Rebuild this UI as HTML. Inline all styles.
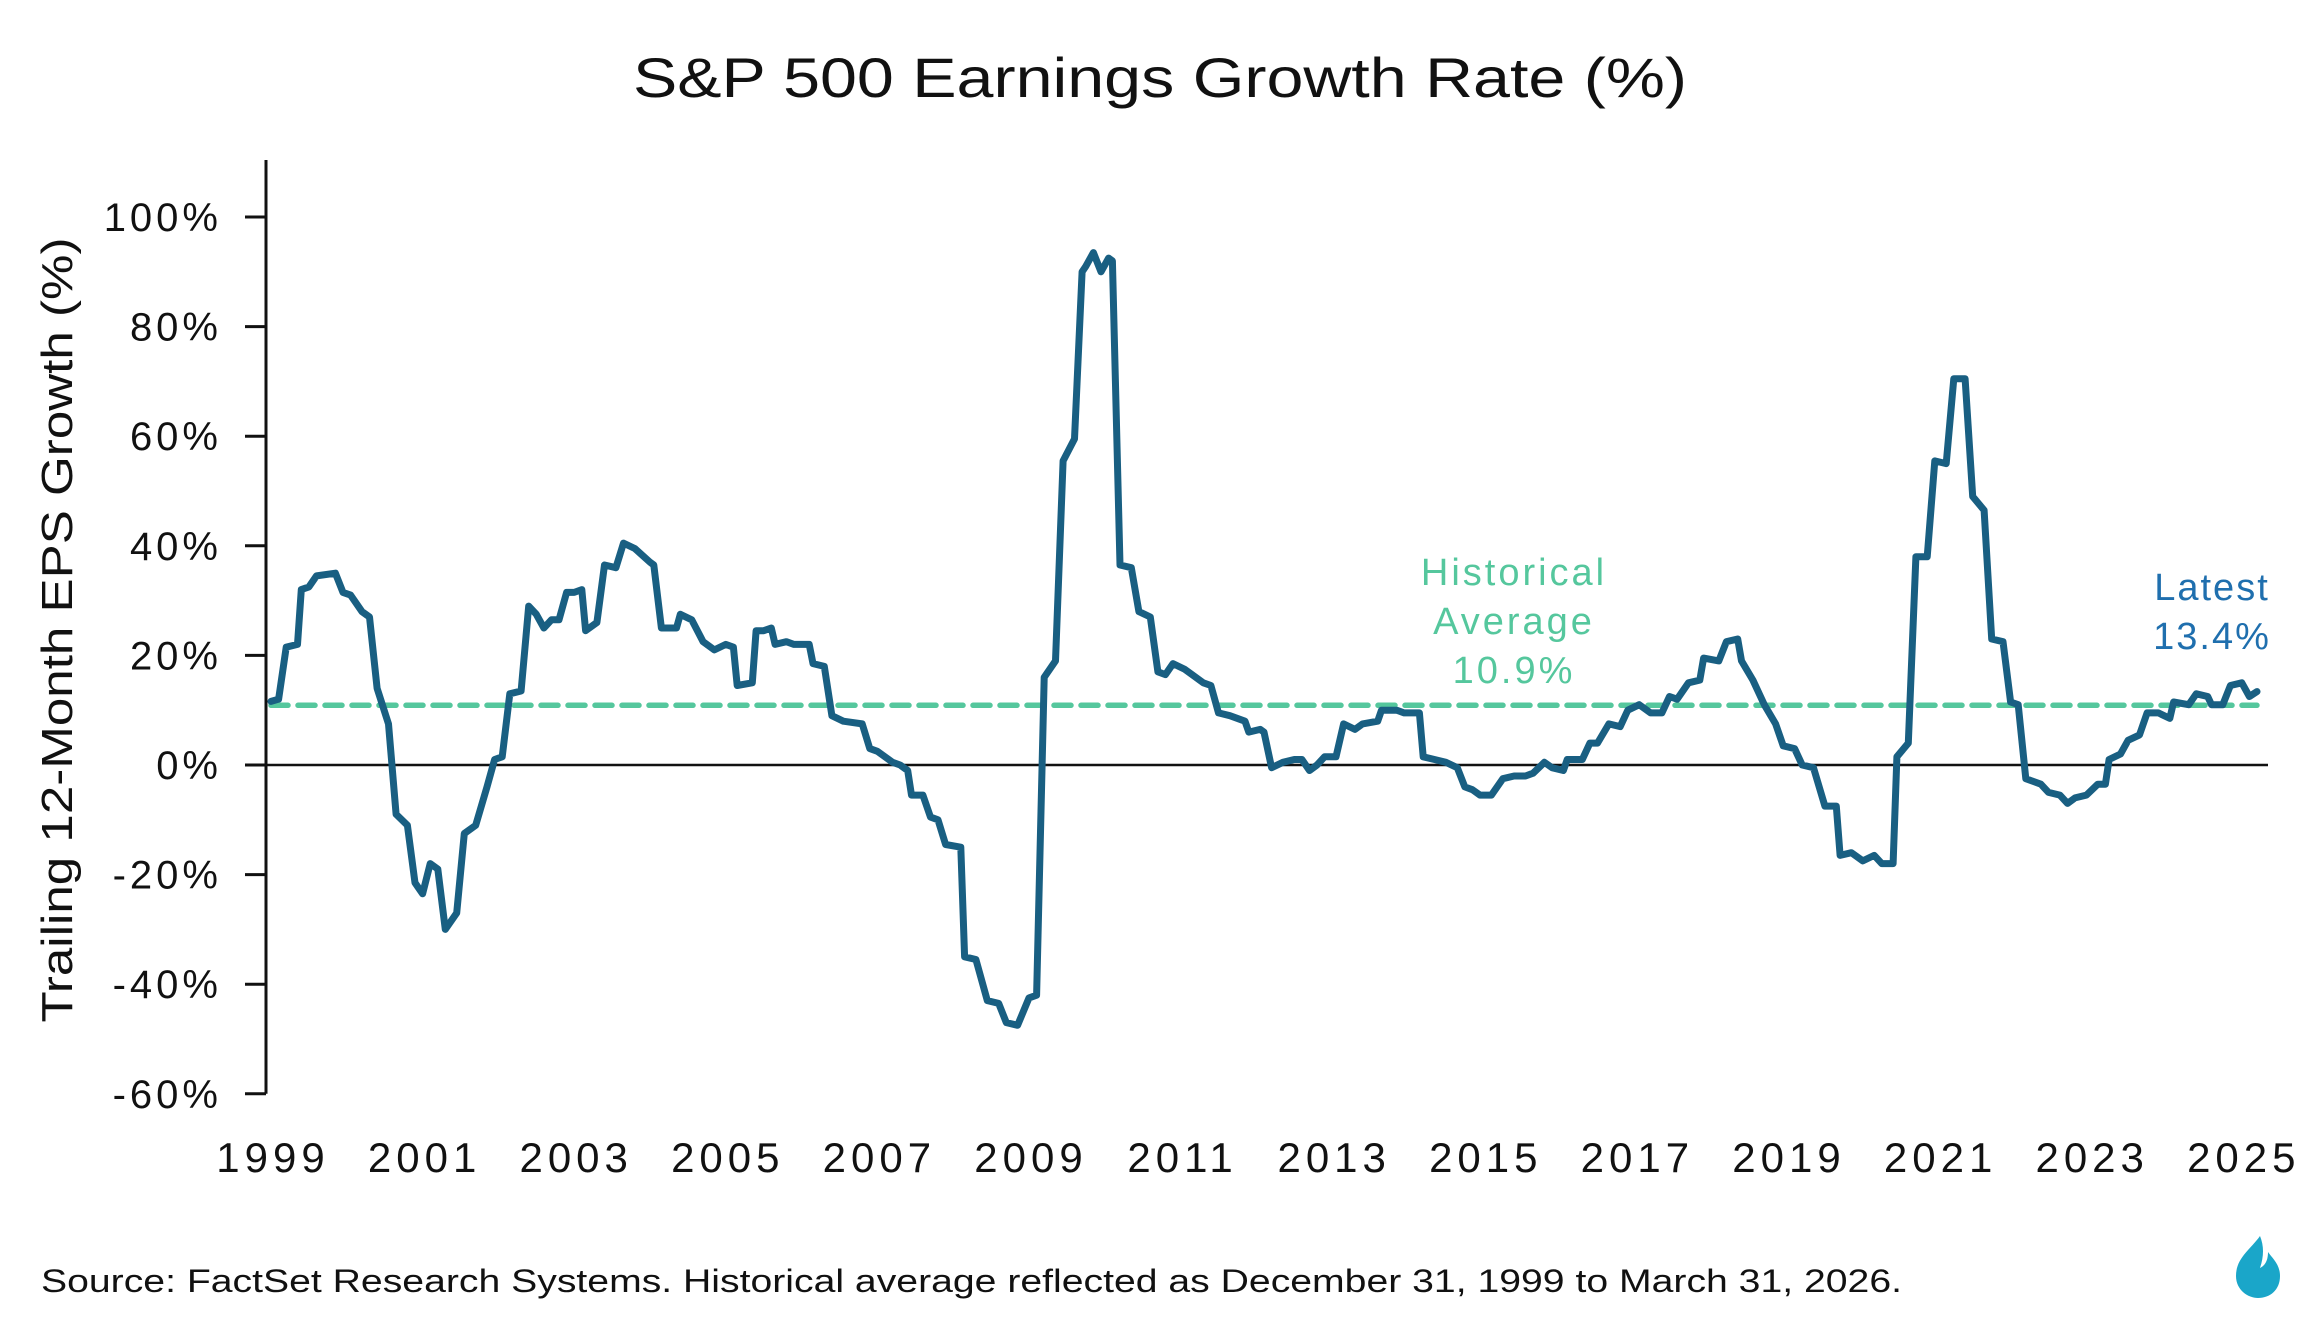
<!DOCTYPE html>
<html><head><meta charset="utf-8"><style>
html,body{margin:0;padding:0;background:#fff;}
svg{display:block;font-family:"Liberation Sans",sans-serif;}
</style></head><body>
<svg id="chart" width="2310" height="1320" viewBox="0 0 2310 1320" xmlns="http://www.w3.org/2000/svg">
<text x="1160" y="97" font-size="56" text-anchor="middle" fill="#111" textLength="1054" lengthAdjust="spacingAndGlyphs">S&amp;P 500 Earnings Growth Rate (%)</text>
<g id="yaxis"></g>
<g id="xaxis"></g>
<text transform="translate(72,630) rotate(-90)" font-size="44" text-anchor="middle" fill="#111" textLength="785" lengthAdjust="spacingAndGlyphs">Trailing 12-Month EPS Growth  (%)</text>
<g id="plot"></g>
<text x="1514" y="585" font-size="38" text-anchor="middle" fill="#55c79d" letter-spacing="3">Historical</text>
<text x="1514" y="634" font-size="38" text-anchor="middle" fill="#55c79d" letter-spacing="3">Average</text>
<text x="1514" y="683" font-size="38" text-anchor="middle" fill="#55c79d" letter-spacing="3">10.9%</text>
<text x="2212" y="600" font-size="38" text-anchor="middle" fill="#1f6fae" letter-spacing="2">Latest</text>
<text x="2212" y="649" font-size="38" text-anchor="middle" fill="#1f6fae" letter-spacing="2">13.4%</text>
<text x="41" y="1292" font-size="32" fill="#111" textLength="1861" lengthAdjust="spacingAndGlyphs">Source: FactSet Research Systems. Historical average reflected as December 31, 1999 to March 31, 2026.</text>
<g transform="translate(2258,1268)">
<path d="M2,-32 C-8,-18 -22,-10 -22,8 C-22,22 -10,30 0,30 C12,30 22,22 22,8 C22,-4 14,-10 10,-16 C10,-6 6,-2 2,0 C6,-12 6,-22 2,-32Z" fill="#1aa6c9"/>
</g>
</svg>
<script>
const yTicks = [-60,-40,-20,0,20,40,60,80,100];
const yTickLabels = ["-60%","-40%","-20%","0%","20%","40%","60%","80%","100%"];
const xTicks = [1999,2001,2003,2005,2007,2009,2011,2013,2015,2017,2019,2021,2023,2025];
const avgValue = 10.9;
const years = [1999.0,1999.1,1999.2,1999.35,1999.4,1999.5,1999.6,1999.85,1999.95,2000.05,2000.2,2000.3,2000.4,2000.55,2000.65,2000.8,2000.9,2001.0,2001.1,2001.2,2001.3,2001.45,2001.55,2001.7,2001.85,2001.95,2002.05,2002.15,2002.3,2002.4,2002.5,2002.6,2002.7,2002.8,2002.9,2003.0,2003.1,2003.15,2003.3,2003.4,2003.55,2003.65,2003.8,2004.0,2004.05,2004.15,2004.35,2004.4,2004.55,2004.7,2004.85,2005.0,2005.1,2005.15,2005.35,2005.4,2005.5,2005.6,2005.65,2005.8,2005.9,2006.1,2006.15,2006.3,2006.4,2006.55,2006.8,2006.9,2007.0,2007.2,2007.3,2007.4,2007.45,2007.6,2007.7,2007.8,2007.9,2008.1,2008.15,2008.3,2008.45,2008.6,2008.7,2008.85,2009.0,2009.1,2009.2,2009.35,2009.45,2009.6,2009.7,2009.75,2009.85,2009.95,2010.05,2010.1,2010.2,2010.35,2010.45,2010.6,2010.7,2010.8,2010.9,2011.05,2011.15,2011.3,2011.4,2011.5,2011.65,2011.85,2011.9,2012.05,2012.1,2012.2,2012.35,2012.5,2012.6,2012.7,2012.8,2012.9,2013.05,2013.15,2013.3,2013.4,2013.6,2013.65,2013.85,2013.95,2014.15,2014.2,2014.35,2014.5,2014.65,2014.75,2014.85,2014.95,2015.1,2015.25,2015.4,2015.55,2015.65,2015.8,2015.9,2016.05,2016.1,2016.3,2016.4,2016.5,2016.65,2016.8,2016.9,2017.05,2017.2,2017.35,2017.45,2017.55,2017.7,2017.85,2017.9,2018.1,2018.2,2018.35,2018.4,2018.55,2018.7,2018.85,2018.95,2019.1,2019.2,2019.35,2019.5,2019.65,2019.7,2019.85,2020.0,2020.15,2020.25,2020.4,2020.45,2020.6,2020.7,2020.85,2020.95,2021.1,2021.2,2021.35,2021.45,2021.6,2021.7,2021.85,2021.95,2022.05,2022.15,2022.35,2022.45,2022.6,2022.7,2022.8,2022.95,2023.1,2023.2,2023.25,2023.4,2023.5,2023.65,2023.75,2023.9,2024.05,2024.1,2024.3,2024.4,2024.55,2024.6,2024.75,2024.85,2025.0,2025.1,2025.2];
const growth = [11.6,12,21.5,22,32,32.5,34.5,35,31.5,31,28,27,14,7.5,-9,-11,-21.5,-23.5,-18,-19,-30,-27,-12.5,-11,-4,1,1.5,13,13.5,29,27.5,25,26.5,26.5,31.5,31.5,32,24.5,26,36.5,36,40.5,39.5,37,36.5,25,25,27.5,26.5,22.5,21,22,21.5,14.5,15,24.5,24.5,25,22,22.5,22,22,18.5,18,9,8,7.5,3,2.5,0.5,0,-1,-5.5,-5.5,-9.5,-10,-14.5,-15,-35,-35.5,-43,-43.5,-47,-47.5,-42.5,-42,16,19,55.5,59.5,90,91,93.5,90,92.5,92,36.5,36,28,27,17,16.5,18.5,17.5,16.5,15,14.5,9.5,9,8,6,6.5,6,-0.5,0.5,1,1,-1,0,1.5,1.5,7.5,6.5,7.5,8,10,10,9.5,9.5,1.5,1,0.5,-0.5,-4,-4.5,-5.5,-5.5,-2.5,-2,-2,-1.5,0.5,-0.5,-1,1,1,4,4,7.5,7,10,11,9.5,9.5,12.5,12,15,15.5,19.5,19,22.5,23,19,15.5,11,7.5,3.5,3,0,-0.5,-7.5,-7.5,-16.5,-16,-17.5,-16.5,-18,-18,1.5,4,38,38,55.5,55,70.5,70.5,49,46.5,23,22.5,11.5,11,-2.5,-3.5,-5,-5.5,-7,-6,-5.5,-3.5,-3.5,1,2,4.5,5.5,9.5,9.5,8.5,11.5,11,13,12.5,11,11,14.5,15,12.5,13.4];

const NS = "http://www.w3.org/2000/svg";
const X0 = 271, PX_PER_YEAR = 75.8;
const Y0 = 765, PX_PER_PCT = 5.48;
function xScale(yr){ return X0 + (yr - 1999) * PX_PER_YEAR; }
function yScale(v){ return Y0 - v * PX_PER_PCT; }
function mk(tag, attrs, parent){ const e = document.createElementNS(NS, tag); for (const k in attrs) e.setAttribute(k, attrs[k]); parent.appendChild(e); return e; }

const yaxis = document.getElementById('yaxis');
const xaxis = document.getElementById('xaxis');
const plot = document.getElementById('plot');

const axisLine = mk('line', {x1:266, x2:266, y1:160, y2:yScale(-60), stroke:'#111', 'stroke-width':3}, yaxis);


yTicks.forEach((t, i) => {
  const tk = mk('line', {x1:245, x2:266, y1:yScale(t), y2:yScale(t), stroke:'#111', 'stroke-width':3}, yaxis);
  
  
  const lb = mk('text', {x:222, y:yScale(t)+14, 'font-size':40, 'text-anchor':'end', fill:'#111', 'letter-spacing':4}, yaxis);
  lb.textContent = yTickLabels[i];
  
  
});
xTicks.forEach(t => {
  const lb = mk('text', {x:xScale(t)+2, y:1172, 'font-size':42, 'text-anchor':'middle', fill:'#111', 'letter-spacing':5}, xaxis);
  lb.textContent = String(t);
  
  
});

const zero = mk('line', {x1:266, x2:2268, y1:yScale(0), y2:yScale(0), stroke:'#111', 'stroke-width':2.5}, plot);



const avg = mk('line', {x1:xScale(years[0]), x2:xScale(years[years.length-1]), y1:yScale(avgValue), y2:yScale(avgValue), stroke:'#55c79d', 'stroke-width':5.5, 'stroke-dasharray':'17 10', 'stroke-linecap':'round'}, plot);



let d = '';
years.forEach((yr, i) => { d += (i ? 'L' : 'M') + xScale(yr).toFixed(1) + ',' + yScale(growth[i]).toFixed(1); });
const line = mk('path', {d:d, fill:'none', stroke:'#195f82', 'stroke-width':7, 'stroke-linejoin':'round', 'stroke-linecap':'round'}, plot);


</script>
</body></html>
